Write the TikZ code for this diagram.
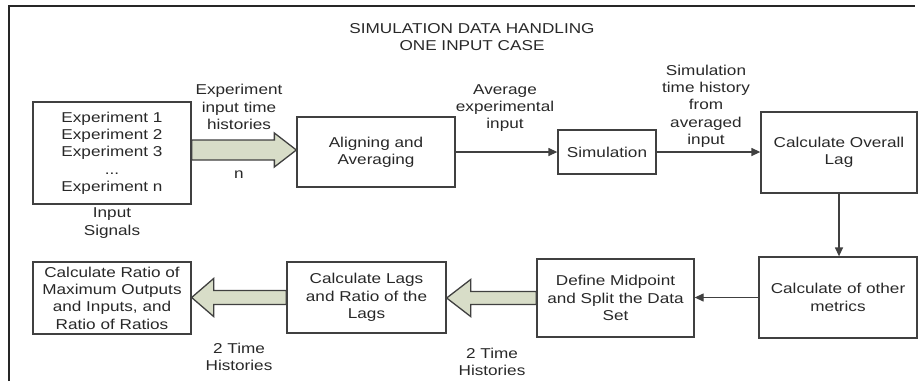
\documentclass[tikz,border=0pt]{standalone}
\usepackage{fontspec}
\setmainfont{Liberation Sans}[FakeStretch=1.2]
\usetikzlibrary{positioning}
\usetikzlibrary{calc}
\usetikzlibrary{arrows.meta}

\definecolor{boxline}{RGB}{64,64,64}
\definecolor{textgray}{RGB}{40,40,40}
\definecolor{fatfill}{RGB}{216,221,200}

% wide block arrow: start, tip, head length (signed), head half width, shaft half width
\newcommand{\fatarrow}[5]{%
    \draw[fat] ($(#1)+(0,-#5)$) -- ($(#2)+({-(#3)},-#5)$) -- ($(#2)+({-(#3)},-#4)$)
        -- (#2) -- ($(#2)+({-(#3)},#4)$) -- ($(#2)+({-(#3)},#5)$) -- ($(#1)+(0,#5)$) -- cycle;
}

\begin{document}
\begin{tikzpicture}[
        x=1pt,
        y=-1pt,
        block/.style={
            draw=boxline,
            line width=1.3pt,
            align=center,
            inner sep=0pt,
            text=textgray,
            font=\fontsize{14.3}{17.3}\selectfont,
        },
        note/.style={
            align=center,
            inner sep=0pt,
            text=textgray,
            font=\fontsize{14.3}{17.3}\selectfont,
        },
        flow/.style={
            -{Triangle[length=9pt,width=8pt]},
            line width=1.3pt,
            draw=boxline,
        },
        fat/.style={
            draw=boxline,
            line width=1.3pt,
            fill=fatfill,
        },
    ]
    \useasboundingbox (0,0) rectangle (920,381);

    % Frame and title.
    \draw[line width=2pt, black!85] (9,381) -- (9,6) -- (915,6);
    \node[note] (title) at (472,37) {SIMULATION DATA HANDLING\\ONE INPUT CASE};

    % Upper row.
    \node[block, minimum width=158pt, minimum height=102pt] (exp) at (112,153)
        {Experiment 1\\Experiment 2\\Experiment 3\\...\\Experiment n};
    \node[note] (sig) at (112,223) {Input\\Signals};

    \node[block, minimum width=158pt, minimum height=70pt] (align) at (376,152) {Aligning and\\Averaging};
    \node[block, minimum width=98pt, minimum height=44pt] (sim) at (607,152) {Simulation};
    \node[block, minimum width=156pt, minimum height=81pt] (lag) at (839,152.5) {Calculate Overall\\Lag};

    % Lower row.
    \node[block, minimum width=158pt, minimum height=81pt] (met) at (838,297.5) {Calculate of other\\metrics};
    \node[block, minimum width=157pt, minimum height=78pt] (mid) at (615.5,298) {Define Midpoint\\and Split the Data\\Set};
    \node[block, minimum width=159pt, minimum height=71pt] (lags) at (366.5,297.5) {Calculate Lags\\and Ratio of the\\Lags};
    \node[block, minimum width=158pt, minimum height=72pt] (ratio) at (112,298)
        {Calculate Ratio of\\Maximum Outputs\\and Inputs, and\\Ratio of Ratios};

    % Labels on the connectors.
    \node[note] (explbl) at (239,107) {Experiment\\input time\\histories};
    \node[note] (nlbl) at (239,175) {n};
    \node[note] (avglbl) at (505,108) {Average\\experimental\\input};
    \node[note] (simlbl) at (706,106) {Simulation\\time history\\from\\averaged\\input};
    \node[note] (twoa) at (239,357) {2 Time\\Histories};
    \node[note] (twob) at (492,362) {2 Time\\Histories};

    % Thin connectors.
    \draw[flow] (align.east) -- (align.east -| sim.west);
    \draw[flow] (sim.east) -- (sim.east -| lag.west);
    \draw[flow] (lag.south) -- (lag.south |- met.north);
    \draw[flow] (met.west) -- (met.west -| mid.east);

    % Wide arrows.
    \coordinate (a1s) at ($(exp.east)+(0,-3)$);
    \coordinate (a1e) at (align.west |- a1s);
    \coordinate (a2e) at (mid.west -| lags.east);
    \coordinate (a3e) at (lags.west -| ratio.east);

    \fatarrow{a1s}{a1e}{22}{17}{10}
    \fatarrow{mid.west}{a2e}{-24}{18.5}{6.5}
    \fatarrow{lags.west}{a3e}{-22}{19}{7}

\end{tikzpicture}
\end{document}
